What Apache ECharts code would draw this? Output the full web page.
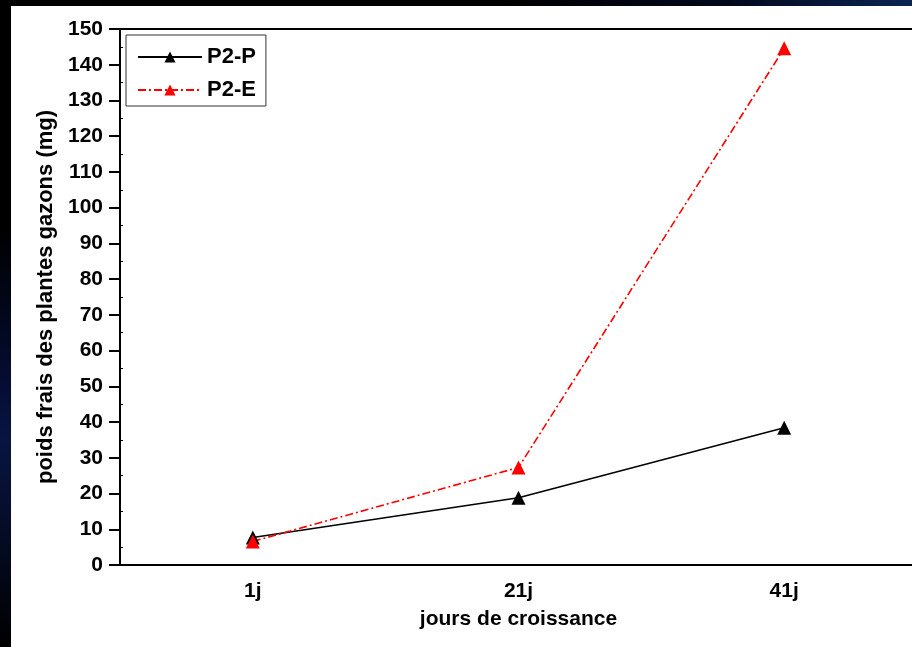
<!DOCTYPE html>
<html>
<head>
<meta charset="utf-8">
<script src="https://cdn.jsdelivr.net/npm/echarts@6/dist/echarts.min.js"></script>
<style>
    html, body { margin: 0; padding: 0; width: 912px; height: 647px; overflow: hidden; background: #000; }
    #frame_top { position: absolute; left: 0; top: 0; width: 912px; height: 6px;
        background: linear-gradient(to right, #000 0%, #000 55%, #02081c 80%, #0b2452 100%); }
    #frame_left { position: absolute; left: 0; top: 0; width: 11px; height: 647px;
        background: linear-gradient(to bottom, #000 0%, #000 35%, #050d33 60%, #081542 68%, #000 100%); }
    #chart_main { position: absolute; left: 11px; top: 6px; width: 920px; height: 641px; background: #fff; }
</style>
</head>
<body>
<div id="frame_top"></div>
<div id="frame_left"></div>
<div id="chart_main"></div>
<script>
//////////// données //////////////////
var jours = ['1j', '21j', '41j'];
var p2p = [7.7, 18.8, 38.4];
var p2e = [6.6, 27.3, 144.6];

var font = 'Liberation Sans';

//////////// poids frais des plantes gazons //////////////////
var chart_dom = document.getElementById('chart_main');
var myChart = echarts.init(chart_dom);
var option = {
    animation: false,
    backgroundColor: '#FFFFFF',
    grid: [
        {left: 109, top: 23, right: 14, bottom: 82, show: true, borderColor: '#000', borderWidth: 2, backgroundColor: 'transparent'},
        {left: 109, top: 23, right: 14, bottom: 82}
    ],
    legend: {
        orient: 'vertical',
        left: 115,
        top: 29,
        data: ['P2-P', 'P2-E'],
        itemWidth: 64,
        itemHeight: 14,
        itemGap: 11,
        padding: [11, 10, 5, 11],
        borderColor: '#333',
        borderWidth: 1,
        borderRadius: 0,
        textStyle: {fontFamily: font, fontSize: 22, fontWeight: 'bold', color: '#000'}
    },
    xAxis: [
        {
            gridIndex: 0,
            type: 'category',
            data: jours,
            boundaryGap: true,
            name: 'jours de croissance',
            nameLocation: 'middle',
            nameGap: 44,
            nameTextStyle: {fontFamily: font, fontSize: 21, fontWeight: 'bold', color: '#000'},
            axisLine: {lineStyle: {color: '#000', width: 2}},
            axisTick: {alignWithLabel: true, length: 10, lineStyle: {color: '#000', width: 2}},
            axisLabel: {fontFamily: font, fontSize: 21, fontWeight: 'bold', color: '#000', margin: 16},
            splitLine: {show: false}
        },
        {
            gridIndex: 1,
            type: 'category',
            data: jours,
            show: false
        }
    ],
    yAxis: [
        {
            gridIndex: 0,
            type: 'value',
            min: 0,
            max: 150,
            interval: 10,
            name: 'poids frais des plantes gazons (mg)',
            nameLocation: 'middle',
            nameGap: 62,
            nameTextStyle: {fontFamily: font, fontSize: 22, fontWeight: 'bold', color: '#000'},
            axisLine: {show: true, lineStyle: {color: '#000', width: 2}},
            axisTick: {show: true, length: 11, lineStyle: {color: '#000', width: 2}},
            axisLabel: {fontFamily: font, fontSize: 21, fontWeight: 'bold', color: '#000', margin: 17},
            splitLine: {show: false}
        },
        {
            // petites graduations vers l'intérieur
            gridIndex: 1,
            type: 'value',
            min: 0,
            max: 150,
            interval: 10,
            axisLine: {show: false},
            axisLabel: {show: false},
            axisTick: {show: false, inside: true},
            minorTick: {show: true, splitNumber: 2, length: 3, lineStyle: {color: '#000', width: 1}},
            splitLine: {show: false},
            minorSplitLine: {show: false}
        }
    ],
    series: [
        {
            name: 'P2-P',
            type: 'line',
            xAxisIndex: 0,
            yAxisIndex: 0,
            data: p2p,
            symbol: 'triangle',
            symbolSize: 14,
            color: '#000000',
            lineStyle: {color: '#000000', width: 1.6},
            itemStyle: {color: '#000000'}
        },
        {
            name: 'P2-E',
            type: 'line',
            xAxisIndex: 0,
            yAxisIndex: 0,
            data: p2e,
            symbol: 'triangle',
            symbolSize: 14,
            color: '#FF0000',
            lineStyle: {color: '#FF0000', width: 1.6, type: [8, 3, 2, 3]},
            itemStyle: {color: '#FF0000'}
        }
    ]
};
myChart.setOption(option);
</script>
</body>
</html>
